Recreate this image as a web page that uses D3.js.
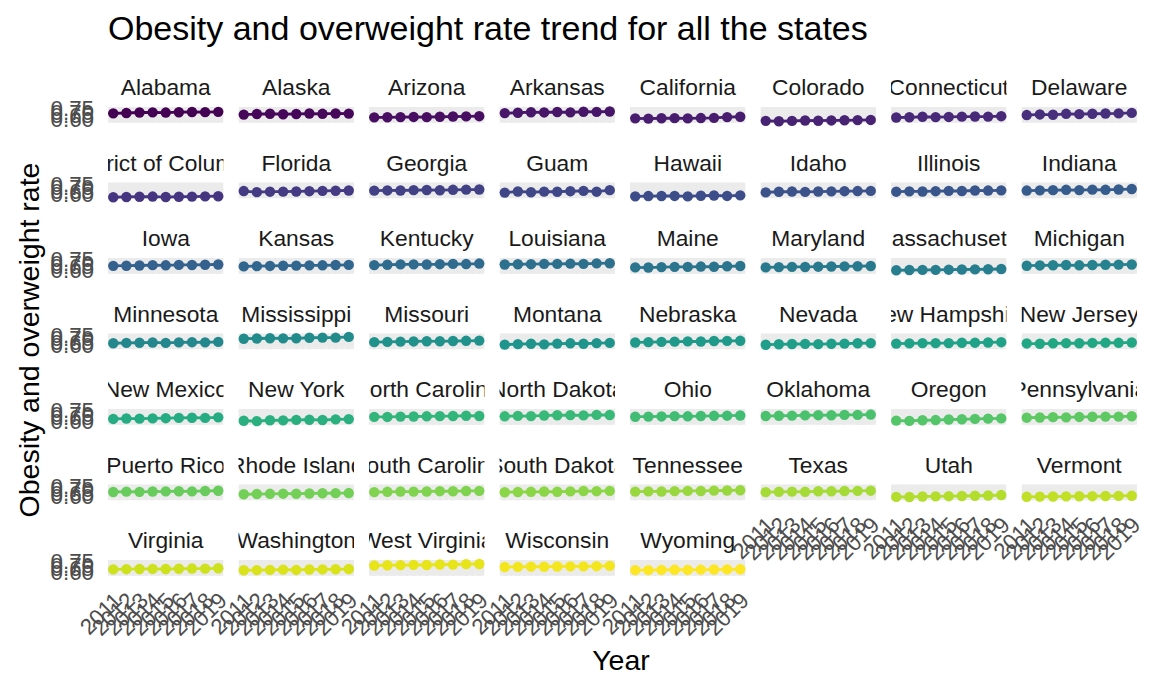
<!DOCTYPE html>
<html><head><meta charset="utf-8">
<script src="https://cdn.jsdelivr.net/npm/d3@7"></script>
<style>body{margin:0;background:#fff}svg{display:block;font-family:"Liberation Sans",Arial,sans-serif}</style>
</head><body><svg id="c" width="1152" height="691"></svg>
<script>
const years = [2011,2012,2013,2014,2015,2016,2017,2018,2019];
const yTicks = [0.60,0.65,0.70,0.75];
const yMinor = [0.55,0.575,0.625,0.675,0.725];
const xMinor = [2011.5,2012.5,2013.5,2014.5,2015.5,2016.5,2017.5,2018.5];
const states = ["Alabama","Alaska","Arizona","Arkansas","California","Colorado","Connecticut","Delaware",
"District of Columbia","Florida","Georgia","Guam","Hawaii","Idaho","Illinois","Indiana",
"Iowa","Kansas","Kentucky","Louisiana","Maine","Maryland","Massachusetts","Michigan",
"Minnesota","Mississippi","Missouri","Montana","Nebraska","Nevada","New Hampshire","New Jersey",
"New Mexico","New York","North Carolina","North Dakota","Ohio","Oklahoma","Oregon","Pennsylvania",
"Puerto Rico","Rhode Island","South Carolina","South Dakota","Tennessee","Texas","Utah","Vermont",
"Virginia","Washington","West Virginia","Wisconsin","Wyoming"];
const rates = [
[0.674,0.679,0.686,0.688,0.685,0.690,0.693,0.691,0.695],
[0.656,0.664,0.668,0.661,0.665,0.671,0.667,0.672,0.670],
[0.616,0.617,0.620,0.622,0.619,0.625,0.628,0.630,0.633],
[0.677,0.682,0.690,0.687,0.693,0.688,0.697,0.695,0.700],
[0.602,0.598,0.603,0.605,0.601,0.606,0.609,0.620,0.625],
[0.566,0.560,0.565,0.571,0.568,0.572,0.574,0.577,0.579],
[0.614,0.617,0.625,0.620,0.622,0.626,0.628,0.627,0.633],
[0.649,0.658,0.653,0.667,0.662,0.668,0.671,0.673,0.680],
[0.553,0.557,0.560,0.563,0.556,0.560,0.562,0.565,0.568],
[0.642,0.626,0.633,0.634,0.636,0.640,0.645,0.647,0.650],
[0.648,0.651,0.650,0.655,0.657,0.654,0.660,0.662,0.664],
[0.620,0.636,0.625,0.634,0.632,0.640,0.645,0.633,0.655],
[0.566,0.570,0.571,0.572,0.565,0.575,0.578,0.572,0.580],
[0.623,0.632,0.635,0.630,0.635,0.638,0.640,0.642,0.644],
[0.633,0.638,0.636,0.640,0.645,0.643,0.650,0.649,0.652],
[0.649,0.652,0.655,0.660,0.656,0.662,0.660,0.665,0.671],
[0.652,0.654,0.657,0.662,0.660,0.666,0.665,0.668,0.672],
[0.644,0.648,0.651,0.654,0.656,0.659,0.660,0.664,0.666],
[0.662,0.668,0.673,0.674,0.671,0.676,0.680,0.678,0.685],
[0.672,0.675,0.676,0.681,0.680,0.684,0.681,0.688,0.690],
[0.630,0.628,0.634,0.638,0.637,0.642,0.639,0.646,0.650],
[0.630,0.634,0.638,0.636,0.640,0.643,0.645,0.647,0.650],
[0.589,0.592,0.594,0.595,0.597,0.600,0.601,0.603,0.607],
[0.654,0.658,0.661,0.664,0.660,0.664,0.668,0.670,0.672],
[0.625,0.630,0.632,0.636,0.630,0.637,0.640,0.638,0.644],
[0.690,0.693,0.697,0.695,0.696,0.704,0.706,0.705,0.716],
[0.641,0.644,0.648,0.651,0.654,0.653,0.657,0.660,0.663],
[0.605,0.612,0.618,0.609,0.620,0.624,0.618,0.627,0.630],
[0.636,0.641,0.644,0.648,0.652,0.650,0.657,0.659,0.660],
[0.604,0.610,0.614,0.616,0.612,0.617,0.620,0.625,0.627],
[0.620,0.623,0.627,0.626,0.627,0.632,0.633,0.636,0.640],
[0.622,0.617,0.624,0.627,0.625,0.630,0.633,0.631,0.636],
[0.622,0.628,0.626,0.630,0.633,0.637,0.639,0.637,0.645],
[0.596,0.590,0.603,0.602,0.608,0.611,0.607,0.616,0.620],
[0.652,0.651,0.656,0.657,0.660,0.662,0.664,0.668,0.665],
[0.660,0.666,0.663,0.672,0.675,0.677,0.673,0.681,0.679],
[0.654,0.656,0.658,0.662,0.660,0.664,0.667,0.669,0.672],
[0.664,0.668,0.670,0.673,0.676,0.675,0.681,0.680,0.685],
[0.598,0.594,0.603,0.606,0.614,0.617,0.623,0.626,0.630],
[0.640,0.643,0.648,0.645,0.651,0.653,0.656,0.655,0.661],
[0.657,0.662,0.659,0.664,0.666,0.668,0.666,0.672,0.675],
[0.625,0.628,0.631,0.633,0.632,0.636,0.639,0.641,0.642],
[0.656,0.660,0.664,0.663,0.665,0.669,0.668,0.672,0.674],
[0.654,0.657,0.660,0.664,0.661,0.666,0.671,0.669,0.673],
[0.663,0.666,0.665,0.670,0.673,0.672,0.677,0.679,0.683],
[0.655,0.660,0.662,0.660,0.668,0.668,0.671,0.674,0.676],
[0.587,0.585,0.593,0.595,0.597,0.600,0.603,0.607,0.613],
[0.588,0.591,0.592,0.594,0.596,0.597,0.600,0.601,0.604],
[0.630,0.633,0.636,0.637,0.635,0.639,0.642,0.641,0.646],
[0.618,0.620,0.623,0.627,0.622,0.629,0.630,0.632,0.635],
[0.685,0.690,0.691,0.695,0.693,0.700,0.698,0.705,0.708],
[0.665,0.666,0.670,0.668,0.672,0.674,0.673,0.676,0.681],
[0.620,0.620,0.622,0.625,0.622,0.627,0.628,0.630,0.632]
];

const svg = d3.select("#c");
const nCol = 8, colStep = 130.5, rowStep = 75.5, pw = 115.5, ph = 16;
const left0 = 108, top0 = 107;
const x = d3.scaleLinear().domain([2010.6, 2019.4]).range([0, pw]);
const y = d3.scaleLinear().domain([0.535, 0.765]).range([ph, 0]);
const color = i => d3.interpolateViridis(i / (states.length - 1));
const grid = "#EBEBEB", axisCol = "#4D4D4D";
const stripSize = 22.8, axisSize = 22.3;

// title
svg.append("text").attr("x", 108).attr("y", 40).attr("font-size", 34).attr("fill", "#000")
  .text("Obesity and overweight rate trend for all the states");
// axis titles
svg.append("text").attr("x", 621).attr("y", 670).attr("text-anchor", "middle").attr("font-size", 28.5).text("Year");
svg.append("text").attr("transform", "translate(39,340) rotate(-90)").attr("text-anchor", "middle")
  .attr("font-size", 28.5).text("Obesity and overweight rate");

states.forEach((name, i) => {
  const col = i % nCol, row = Math.floor(i / nCol);
  const px = left0 + col * colStep, py = top0 + row * rowStep;
  const g = svg.append("g").attr("transform", `translate(${px},${py})`);
  const cid = "clip" + i;
  svg.append("clipPath").attr("id", cid).append("rect").attr("x", 0).attr("y", -40).attr("width", pw).attr("height", ph + 40);
  const pc = svg.append("clipPath").attr("id", "p" + cid);
  pc.append("rect").attr("x", 0).attr("y", 0).attr("width", pw).attr("height", ph);
  // grid
  const gg = g.append("g").attr("clip-path", `url(#p${cid})`);
  gg.selectAll(".hm").data(yMinor).join("line").attr("x1", 0).attr("x2", pw)
    .attr("y1", d => y(d)).attr("y2", d => y(d)).attr("stroke", grid).attr("stroke-width", 1.75);
  gg.selectAll(".vm").data(xMinor).join("line").attr("y1", 0).attr("y2", ph)
    .attr("x1", d => x(d)).attr("x2", d => x(d)).attr("stroke", grid).attr("stroke-width", 1.75);
  gg.selectAll(".hM").data(yTicks).join("line").attr("x1", 0).attr("x2", pw)
    .attr("y1", d => y(d)).attr("y2", d => y(d)).attr("stroke", grid).attr("stroke-width", 3.5);
  gg.selectAll(".vM").data(years).join("line").attr("y1", 0).attr("y2", ph)
    .attr("x1", d => x(d)).attr("x2", d => x(d)).attr("stroke", grid).attr("stroke-width", 3.5);
  // strip
  g.append("text").attr("clip-path", `url(#${cid})`).attr("x", pw / 2).attr("y", -12)
    .attr("text-anchor", "middle").attr("font-size", stripSize).attr("fill", "#1A1A1A").text(name);
  // data
  const vals = rates[i];
  const pts = years.map((yr, k) => [x(yr), y(vals[k])]);
  g.append("path").attr("d", d3.line()(pts)).attr("fill", "none").attr("stroke", color(i)).attr("stroke-width", 2.8);
  g.selectAll("circle").data(pts).join("circle").attr("cx", d => d[0]).attr("cy", d => d[1])
    .attr("r", 5.2).attr("fill", color(i));
  // y axis labels
  if (col === 0) {
    yTicks.forEach(t => {
      svg.append("text").attr("x", px - 14).attr("y", py + y(t)).attr("dy", "0.36em")
        .attr("text-anchor", "end").attr("font-size", axisSize).attr("fill", axisCol).text(t.toFixed(2));
    });
  }
  // x axis labels on bottom panel of each column
  const below = i + nCol;
  if (below >= states.length) {
    years.forEach(yr => {
      const tx = px + x(yr) + 10, ty = py + ph + 26;
      svg.append("text").attr("transform", `translate(${tx},${ty}) rotate(-45)`)
        .attr("text-anchor", "end").attr("font-size", axisSize).attr("fill", axisCol).text(yr);
    });
  }
});
</script></body></html>
